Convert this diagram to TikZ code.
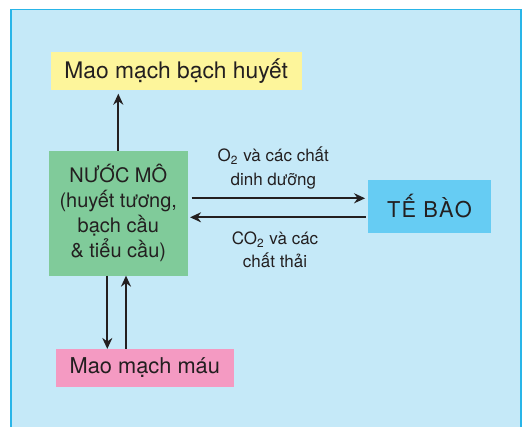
\documentclass[tikz,border=0pt]{standalone}
\usepackage{fontspec}
\setmainfont{TeX Gyre Heros}
\usepackage{tikz}
\usetikzlibrary{arrows.meta}
\definecolor{ink}{HTML}{231F20}
\definecolor{bgblue}{HTML}{C5E9F8}
\definecolor{framecyan}{HTML}{29B5E8}
\definecolor{lymphyellow}{HTML}{FDF59B}
\definecolor{fluidgreen}{HTML}{80CB9A}
\definecolor{cellblue}{HTML}{66CCF3}
\definecolor{bloodpink}{HTML}{F49AC2}

\begin{document}
\begin{tikzpicture}[x=0.5pt, y=-0.5pt,
    box/.style={inner sep=0pt, outer sep=0pt, text=ink, align=center,
      font=\fontsize{10.9}{12.5}\selectfont},
    note/.style={inner sep=0pt, text=ink, align=center,
      font=\fontsize{8.5}{11.6}\selectfont},
    flow/.style={ink, line width=1pt, -{Stealth[length=5.5pt, width=5pt]}}]

\useasboundingbox (0,0) rectangle (525,427);
\clip (0,0) rectangle (525,427);

% ---- frame ----
\filldraw[fill=bgblue, draw=framecyan, line width=0.75pt] (11,9.5) rectangle (521,440);

% ---- boxes ----
\node[box, fill=lymphyellow, minimum width=125.5pt, minimum height=19pt,
    font=\fontsize{11.4}{12.5}\selectfont]
    (lymph) at (176.2,70.7) {Mao mạch bạch huyết};
\node[box, fill=fluidgreen, minimum width=69.35pt, minimum height=62.35pt,
    font=\fontsize{10}{12.5}\selectfont]
    (fluid) at (118.3,213.3) {NƯỚC MÔ\\(huyết tương,\\bạch cầu\\\& tiểu cầu)};
\node[box, fill=cellblue, minimum width=61.2pt, minimum height=26.35pt]
    (cell) at (429.5,206.3) {T\kern0.6pt Ế\kern0.6pt\ B\kern0.6pt À\kern0.6pt O};
\node[box, fill=bloodpink, minimum width=89.15pt, minimum height=18.85pt]
    (blood) at (144.8,367.8) {Mao mạch máu};

% ---- exchange with the cell ----
\coordinate (feed) at ([yshift=4pt]cell.west);
\coordinate (waste) at ([yshift=-5.5pt]cell.west);
\draw[flow, shorten <=2pt, shorten >=1.6pt] (fluid.east |- feed) -- (feed);
\draw[flow, shorten <=1.4pt, shorten >=1.2pt] (waste) -- (fluid.east |- waste);
\node[note] (supply) at (273.3,168) {O\textsubscript{2} và các chất\\dinh dưỡng};
\node[note] (return) at (275,249.7) {CO\textsubscript{2} và các\\chất thải};

% ---- lymph and blood capillaries ----
\draw[flow, shorten >=2pt] (fluid.north) -- (fluid.north |- lymph.south);
\coordinate (drain) at ([xshift=-5.5pt]fluid.south);
\coordinate (refill) at ([xshift=3.85pt]fluid.south);
\draw[flow] (drain) -- (drain |- blood.north);
\draw[flow] (refill |- blood.north) -- (refill);

\end{tikzpicture}
\end{document}
